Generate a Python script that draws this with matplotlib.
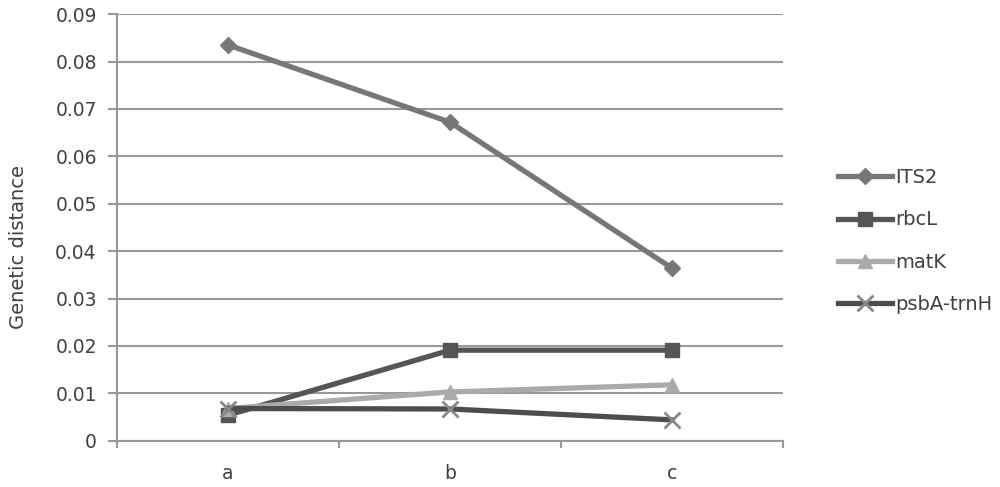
import matplotlib.pyplot as plt
import numpy as np

plt.rcParams['font.family'] = ['DejaVu Sans']

categories = ['a', 'b', 'c']
its2 = [0.0835, 0.0672, 0.0364]
rbcl = [0.0054, 0.0191, 0.0191]
matk = [0.0068, 0.0103, 0.0118]
psba = [0.0068, 0.0067, 0.0044]

x = np.arange(len(categories))
txt = '#404040'

fig = plt.figure(figsize=(10, 4.87), dpi=100)
ax = fig.add_axes([0.117, 0.095, 0.666, 0.876])

ax.plot(x, its2, color='#777777', lw=3.8, marker='D', ms=8, mfc='#777777', mec='#777777', label='ITS2', zorder=4)
ax.plot(x, rbcl, color='#555555', lw=3.8, marker='s', ms=10, mfc='#555555', mec='#555555', label='rbcL', zorder=3)
ax.plot(x, matk, color='#aaaaaa', lw=3.8, marker='^', ms=10, mfc='#aaaaaa', mec='#aaaaaa', label='matK', zorder=3)
ax.plot(x, psba, color='#4d4d4d', lw=3.8, marker='x', ms=11, mew=2, mec='#888888', label='psbA-trnH', zorder=3)

ax.set_xlim(-0.5, 2.5)
ax.set_ylim(0, 0.09)
ax.set_yticks(np.arange(0, 0.091, 0.01))
ax.set_yticklabels(['0'] + ['%.2f' % v for v in np.arange(0.01, 0.091, 0.01)])
ax.set_xticks(x)
ax.set_xticklabels(categories)
ax.set_xticks([-0.5, 0.5, 1.5, 2.5], minor=True)
ax.tick_params(axis='x', which='major', length=0, pad=17, labelsize=13.5, labelcolor=txt)
ax.tick_params(axis='x', which='minor', length=5, color='#999999', width=1.5)
ax.tick_params(axis='y', length=6.5, color='#999999', width=1.5, pad=8, labelsize=13.5, labelcolor=txt)

ax.grid(axis='y', color='#999999', lw=1.5)
ax.set_axisbelow(True)
for s in ['top', 'right']:
    ax.spines[s].set_visible(False)
for s in ['left', 'bottom']:
    ax.spines[s].set_color('#999999')
    ax.spines[s].set_linewidth(1.5)

ax.set_ylabel('Genetic distance', fontsize=14, color=txt)
ax.yaxis.set_label_coords(-0.134, 0.455)

fig.legend(loc='center left', bbox_to_anchor=(0.82, 0.505), frameon=False,
           fontsize=14, handlelength=2.8, labelspacing=1.2, handletextpad=0.15,
           labelcolor=txt)

fig.savefig('out.png', dpi=100)
